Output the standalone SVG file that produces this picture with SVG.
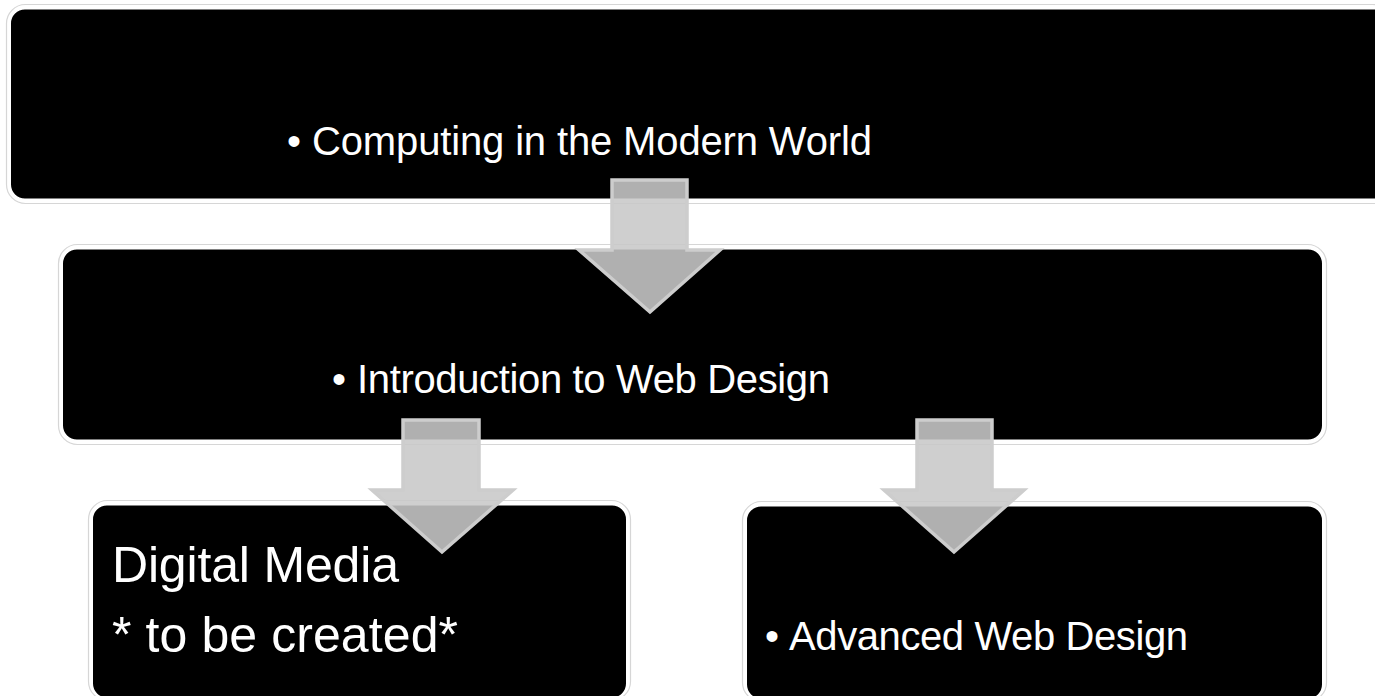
<svg xmlns="http://www.w3.org/2000/svg" width="1375" height="696" viewBox="0 0 1375 696">
<style>
.box{fill:#000;stroke:#ffffff;stroke-width:2}
.halo{fill:none;stroke:#d6d6d6;stroke-width:1.2}
.t{font-family:"Liberation Sans",Arial,sans-serif;fill:#fff}
.arrow{fill:#c8c8c8;fill-opacity:0.88;stroke:#cdcdcd;stroke-width:3.5;stroke-linejoin:miter}
</style>
<rect width="1375" height="696" fill="#fff"/>
<g id="node-computing">
<rect class="halo" x="6.5" y="4.5" width="1385" height="199" rx="19"/>
<rect class="box" x="10" y="8.5" width="1380" height="191" rx="15"/>
<text class="t" x="287" y="155" font-size="40">•</text>
<text class="t" x="312" y="155" font-size="40" textLength="560" lengthAdjust="spacing">Computing in the Modern World</text>
</g>
<g id="node-intro">
<rect class="halo" x="58.5" y="244.5" width="1268" height="200" rx="19"/>
<rect class="box" x="62" y="248.5" width="1261" height="192" rx="15"/>
<text class="t" x="332" y="393" font-size="40">•</text>
<text class="t" x="357" y="393" font-size="40" textLength="473" lengthAdjust="spacing">Introduction to Web Design</text>
</g>
<g id="node-digital">
<rect class="halo" x="88.5" y="500.5" width="542" height="200" rx="19"/>
<rect class="box" x="92" y="504.5" width="535" height="194" rx="15"/>
<text class="t" x="112" y="582" font-size="50" textLength="287" lengthAdjust="spacing">Digital Media</text>
<text class="t" x="112" y="652" font-size="50" textLength="346" lengthAdjust="spacing">* to be created*</text>
</g>
<g id="node-advanced">
<rect class="halo" x="742.5" y="501.5" width="584" height="200" rx="19"/>
<rect class="box" x="746" y="505.5" width="577" height="194" rx="15"/>
<text class="t" x="765" y="650" font-size="40">•</text>
<text class="t" x="789" y="650" font-size="40" textLength="399" lengthAdjust="spacing">Advanced Web Design</text>
</g>
<g id="connectors">
<polygon class="arrow" points="612,180 687,180 687,250 720,250 650,312 579,250 612,250"/>
<polygon class="arrow" points="403,420 479,420 479,490 513,490 442,552 372,490 403,490"/>
<polygon class="arrow" points="917,420 992,420 992,490 1024,490 954,552 884,490 917,490"/>
</g>
</svg>
